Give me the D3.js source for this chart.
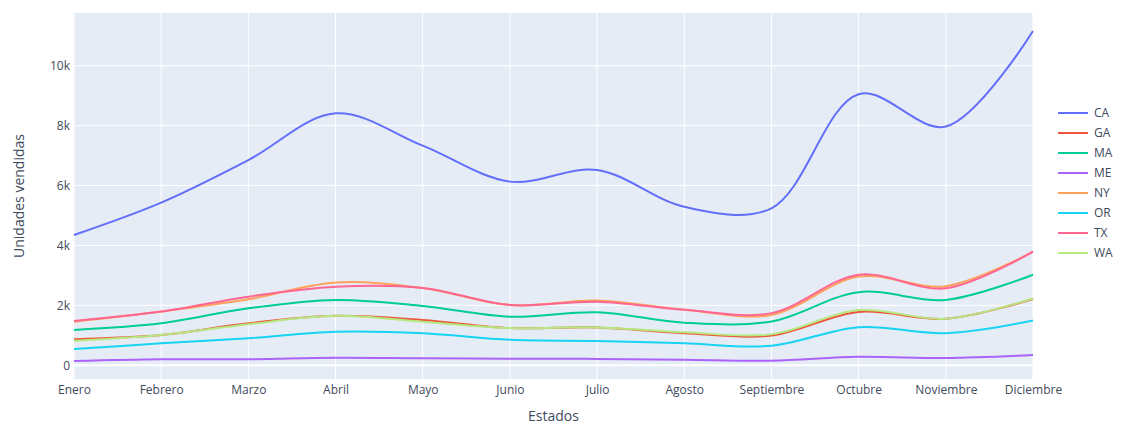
<!DOCTYPE html>
<html>
<head>
<meta charset="utf-8">
<script src="https://cdn.jsdelivr.net/npm/d3@7"></script>
<style>
  html, body { margin: 0; padding: 0; background: #fff; }
  svg { display: block; font-family: "Open Sans", Verdana, Arial, sans-serif; }
</style>
</head>
<body>
<svg id="chart" width="1121" height="428"></svg>
<script>
// Months on the x axis
const months = ["Enero", "Febrero", "Marzo", "Abril", "Mayo", "Junio", "Julio",
  "Agosto", "Septiembre", "Octubre", "Noviembre", "Diciembre"];

// Units sold per state, per month
const CA = [4350, 5430, 6850, 8410, 7330, 6130, 6520, 5290, 5240, 9050, 7970, 11160];
const GA = [870, 1010, 1400, 1650, 1510, 1240, 1260, 1070, 990, 1780, 1550, 2210];
const MA = [1180, 1400, 1900, 2180, 1980, 1620, 1770, 1420, 1460, 2440, 2180, 3020];
const ME = [140, 200, 200, 250, 230, 220, 210, 180, 150, 280, 240, 340];
const NY = [1450, 1790, 2200, 2760, 2580, 2010, 2160, 1850, 1680, 2960, 2640, 3790];
const OR = [540, 730, 900, 1120, 1070, 850, 810, 730, 650, 1270, 1070, 1490];
const TX = [1480, 1790, 2290, 2620, 2580, 2010, 2120, 1850, 1740, 3020, 2570, 3790];
const WA = [820, 1010, 1370, 1650, 1450, 1240, 1260, 1100, 1030, 1840, 1550, 2230];

const states = ["CA", "GA", "MA", "ME", "NY", "OR", "TX", "WA"];
const seriesValues = [CA, GA, MA, ME, NY, OR, TX, WA];
const colors = ["#636efa", "#EF553B", "#00cc96", "#ab63fa", "#FFA15A", "#19d3f3", "#FF6692", "#B6E880"];

// Y tick values
const yTicks = [0, 2000, 4000, 6000, 8000, 10000];

const svg = d3.select("#chart");
const margin = { left: 74, right: 88, top: 13, bottom: 49 };
const W = 1121, H = 428;
const pw = W - margin.left - margin.right;
const ph = H - margin.top - margin.bottom;
const textColor = "#3f4a5c";

const x = d3.scalePoint().domain(months).range([0, pw]);
const y = d3.scaleLinear().domain([-460, 11760]).range([ph, 0]);

const g = svg.append("g").attr("transform", `translate(${margin.left},${margin.top})`);

// Plot background
g.append("rect").attr("width", pw).attr("height", ph).attr("fill", "#E5ECF6");

// Grid lines
g.append("g").selectAll("line").data(months).join("line")
  .attr("x1", d => x(d)).attr("x2", d => x(d))
  .attr("y1", 0).attr("y2", ph)
  .attr("stroke", "#fff").attr("stroke-width", 1);
g.append("g").selectAll("line").data(yTicks).join("line")
  .attr("x1", 0).attr("x2", pw)
  .attr("y1", d => y(d)).attr("y2", d => y(d))
  .attr("stroke", "#fff").attr("stroke-width", d => d === 0 ? 2 : 1);

// Axes (labels only)
const xAxis = g.append("g").attr("transform", `translate(0,${ph})`)
  .call(d3.axisBottom(x).tickSize(0).tickPadding(6));
const yAxis = g.append("g")
  .call(d3.axisLeft(y).tickValues(yTicks).tickSize(0).tickPadding(4)
    .tickFormat(d => d === 0 ? "0" : (d / 1000) + "k"));
[xAxis, yAxis].forEach(a => {
  a.select(".domain").remove();
  a.selectAll("text").attr("fill", textColor).attr("font-size", 12)
    .style("font-family", '"Open Sans", Verdana, Arial, sans-serif');
});

// Lines
const line = d3.line()
  .x((d, i) => x(months[i]))
  .y(d => y(d))
  .curve(d3.curveCatmullRom.alpha(0.5));

g.append("g").selectAll("path").data(seriesValues).join("path")
  .attr("d", d => line(d))
  .attr("fill", "none")
  .attr("stroke", (d, i) => colors[i])
  .attr("stroke-width", 2);

// Axis titles
svg.append("text")
  .attr("x", margin.left + pw / 2).attr("y", 421)
  .attr("text-anchor", "middle").attr("font-size", 14).attr("fill", textColor)
  .text("Estados");
svg.append("text")
  .attr("transform", `translate(24,${margin.top + ph / 2}) rotate(-90)`)
  .attr("text-anchor", "middle").attr("font-size", 14).attr("fill", textColor)
  .text("Unidades vendidas");

// Legend
const legend = svg.append("g").attr("transform", "translate(1058,113)");
const items = legend.selectAll("g").data(states).join("g")
  .attr("transform", (d, i) => `translate(0,${i * 20})`);
items.append("line").attr("x1", 0).attr("x2", 30).attr("y1", 0).attr("y2", 0)
  .attr("stroke", (d, i) => colors[i]).attr("stroke-width", 2);
items.append("text").attr("x", 36).attr("y", 0).attr("dy", "0.35em")
  .attr("font-size", 12).attr("fill", textColor).text(d => d);
</script>
</body>
</html>
